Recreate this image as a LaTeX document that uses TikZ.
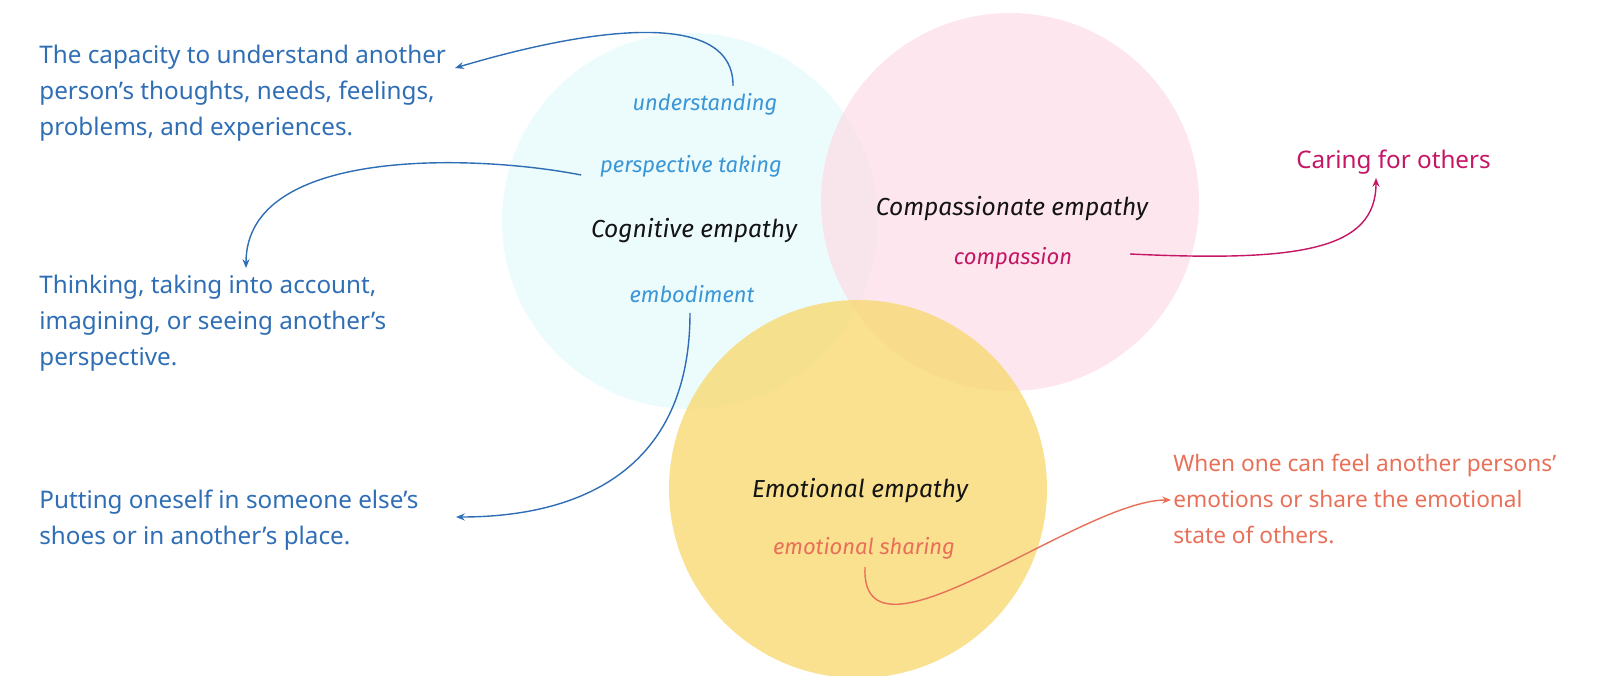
\documentclass[tikz,border=0pt]{standalone}
\usepackage{fontspec}
\setmainfont{Noto Sans}
\newfontfamily\handfont{Fira Sans}
\usepackage{xcolor}
\usetikzlibrary{calc,arrows.meta,positioning}
\definecolor{cogFill}{RGB}{234,251,252}
\definecolor{comFill}{RGB}{253,222,231}
\definecolor{emoFill}{RGB}{248,217,115}
\definecolor{cogBlue}{RGB}{47,110,181}
\definecolor{cogLight}{RGB}{59,150,216}
\definecolor{comPink}{RGB}{196,22,100}
\definecolor{emoOrange}{RGB}{232,112,88}
\definecolor{hdBlack}{RGB}{20,20,20}

\begin{document}
\begin{tikzpicture}[x=0.02cm,y=-0.02cm,
    desc/.style={anchor=north west, inner sep=0pt, align=left, font=\fontsize{13.8}{20.5}\selectfont},
    hand/.style={inner sep=1pt, font=\handfont\itshape\fontsize{12.5}{14}\selectfont},
    title/.style={inner sep=1pt, text=hdBlack, font=\handfont\itshape\fontsize{14}{16}\selectfont},
    link/.style={line width=0.8pt, -{Stealth[length=5pt,width=4pt]}}]
    \useasboundingbox (0,0) rectangle (1624,676);

    % circles
    \fill[cogFill, fill opacity=0.9] (690,221) circle (188);
    \fill[comFill, fill opacity=0.75] (1010,202) circle (189);
    \fill[emoFill, fill opacity=0.8] (858,489) circle (189);

    % labels inside
    \node[title] (cog) at (694,231) {Cognitive empathy};
    \node[hand, text=cogLight] (understanding) at (705,104) {understanding};
    \node[hand, text=cogLight] (perspective) at (691,166) {perspective taking};
    \node[hand, text=cogLight] (embodiment) at (692,294) {embodiment};

    \node[title] (com) at (1012,209) {Compassionate empathy};
    \node[hand, text=comPink] (compassion) at (1013,258) {compassion};

    \node[title] (emo) at (860,491) {Emotional empathy};
    \node[hand, text=emoOrange] (sharing) at (864,548) {emotional sharing};

    % descriptions
    \node[desc, text=cogBlue] (capacity) at (39,45) {The capacity to understand another\\person’s thoughts, needs, feelings,\\problems, and experiences.};
    \node[desc, text=cogBlue] (thinking) at (39,275) {Thinking, taking into account,\\imagining, or seeing another’s\\perspective.};
    \node[desc, text=cogBlue] (putting) at (39,490) {Putting oneself in someone else’s\\shoes or in another’s place.};
    \node[desc, text=comPink] (caring) at (1296,150) {Caring for others};
    \node[desc, text=emoOrange, font=\fontsize{12.9}{20.5}\selectfont] (feel) at (1173,454) {When one can feel another persons’\\emotions or share the emotional\\state of others.};

    \coordinate (capTip) at (455,68);
    \coordinate (thinkTip) at (246,268);
    \coordinate (putTip) at (456,517);
    \coordinate (careTip) at (1376,178);
    \coordinate (feelTip) at (1171,500);

    % connectors
    \draw[link, cogBlue] ($(understanding.north)+(28,-5)$) .. controls (734,14) and (610,22) .. (capTip);
    \draw[link, cogBlue] ($(perspective.west)+(-17,9)$) .. controls (480,155) and (246,145) .. (thinkTip);
    \draw[link, cogBlue] ($(embodiment.south)+(-2,8)$) .. controls (690,470) and (580,517) .. (putTip);
    \draw[link, comPink] ($(compassion.east)+(56,-4)$) .. controls (1300,262) and (1376,250) .. (careTip);
    \draw[link, emoOrange] ($(sharing.south)+(1,6)$) .. controls (860,680) and (1080,500) .. (feelTip);
\end{tikzpicture}
\end{document}
